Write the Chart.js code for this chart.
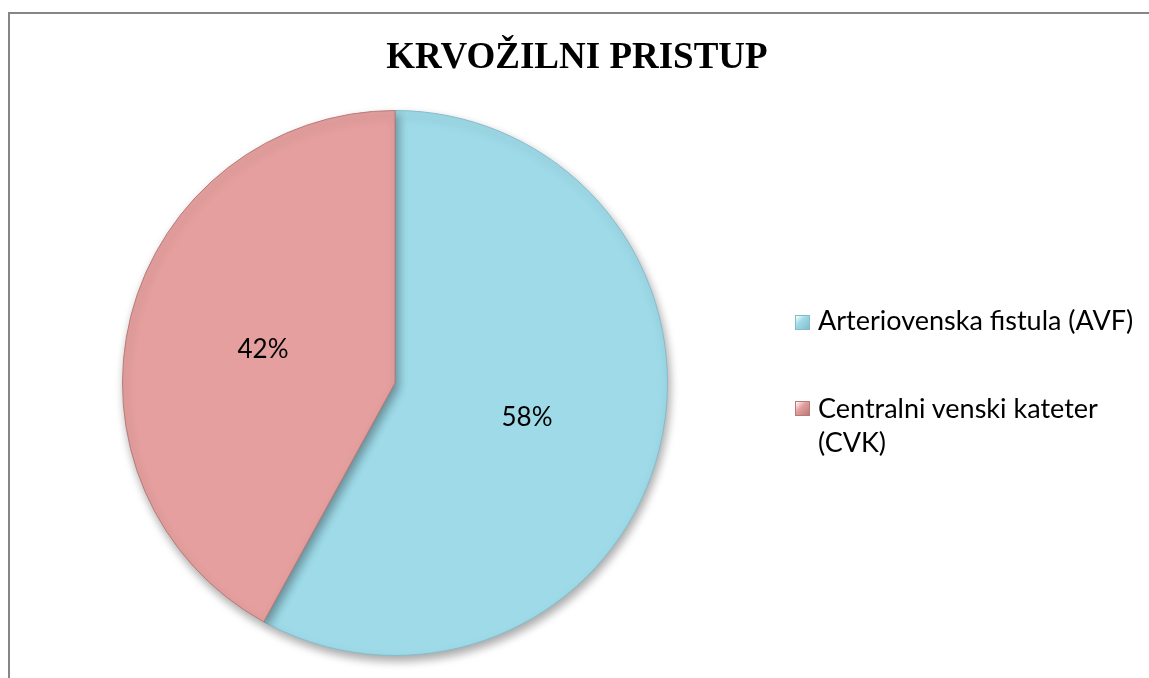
<!DOCTYPE html>
<html>
<head>
<meta charset="utf-8">
<script src="https://cdn.jsdelivr.net/npm/chart.js@4.4.1/dist/chart.umd.min.js"></script>
<style>
  html, body { margin:0; padding:0; background:#fff; }
  #wrap { position:relative; width:1149px; height:678px; overflow:hidden; }
  #frame { position:absolute; left:8px; top:12px; width:1200px; height:700px;
           border-top:2px solid #868686; border-left:2px solid #868686; }
  #c { position:absolute; left:0; top:0; }
  .line { position:absolute; left:818px; font-family:"Lato", "Liberation Sans", sans-serif;
          font-size:27px; line-height:34px; color:#000; white-space:nowrap; }
  .sw { position:absolute; left:795px; width:15px; height:15px; box-sizing:border-box; }
</style>
</head>
<body>
<div id="wrap">
  <div id="frame"></div>
  <canvas id="c" width="1149" height="678"></canvas>
  <div id="legend"></div>
</div>
<script>
const chartTitle = "KRVOŽILNI PRISTUP";
const categories = ["Arteriovenska fistula (AVF)", "Centralni venski kateter (CVK)"];
const legendLines = [["Arteriovenska fistula (AVF)"], ["Centralni venski kateter", "(CVK)"]];
const values = [58, 42];
const sliceColors = ["#9EDAE8", "#E49F9E"];
const sliceEdges = ["#86BCCA", "#B87A79"];

const titlePlugin = {
  id: 'fixedTitle',
  afterDraw(chart) {
    const ctx = chart.ctx;
    ctx.save();
    ctx.font = 'bold 37px "Liberation Serif", "Times New Roman", serif';
    ctx.fillStyle = '#000';
    ctx.textAlign = 'center';
    ctx.textBaseline = 'alphabetic';
    ctx.fillText(chartTitle, 577, 68);
    ctx.restore();
  }
};

const shadowPlugin = {
  id: 'sliceShadow',
  beforeDatasetsDraw(chart) {
    const ctx = chart.ctx;
    ctx.save();
    ctx.shadowColor = 'rgba(0,0,0,0.35)';
    ctx.shadowBlur = 10;
    ctx.shadowOffsetX = 2;
    ctx.shadowOffsetY = 5;
  },
  afterDatasetsDraw(chart) {
    chart.ctx.restore();
  }
};

const labelPlugin = {
  id: 'sliceLabels',
  afterDatasetsDraw(chart) {
    const ctx = chart.ctx;
    const meta = chart.getDatasetMeta(0);
    const total = values.reduce((a, b) => a + b, 0);
    ctx.save();
    ctx.font = '26px "Lato", "Liberation Sans", sans-serif';
    ctx.fillStyle = '#000';
    ctx.textAlign = 'center';
    ctx.textBaseline = 'alphabetic';
    meta.data.forEach((arc, i) => {
      const p = arc.getProps(['x', 'y', 'startAngle', 'endAngle', 'outerRadius'], true);
      const mid = (p.startAngle + p.endAngle) / 2;
      const r = p.outerRadius * 0.5;
      const pct = Math.round(values[i] / total * 100) + '%';
      ctx.fillText(pct, p.x + Math.cos(mid) * r, p.y + Math.sin(mid) * r + 9);
    });
    ctx.restore();
  }
};

new Chart(document.getElementById('c'), {
  type: 'pie',
  data: {
    labels: categories,
    datasets: [{
      data: values,
      backgroundColor: sliceColors,
      borderColor: sliceEdges,
      borderWidth: 1
    }]
  },
  options: {
    responsive: false,
    devicePixelRatio: 1,
    animation: false,
    rotation: 0,
    layout: { padding: { left: 121, top: 110, right: 480, bottom: 22 } },
    plugins: {
      legend: { display: false },
      title: { display: false },
      tooltip: { enabled: false }
    }
  },
  plugins: [shadowPlugin, labelPlugin, titlePlugin]
});

// legend (HTML), built from the category arrays
const lg = document.getElementById('legend');
const firstLineTop = [303, 391];
const swatchTop = [315, 401];
const lineGap = 34;
categories.forEach((c, i) => {
  const sw = document.createElement('span');
  sw.className = 'sw';
  sw.style.top = swatchTop[i] + 'px';
  sw.style.background = `linear-gradient(135deg, #fff 0%, ${sliceColors[i]} 40%, ${sliceEdges[i]} 100%)`;
  sw.style.border = '1px solid ' + sliceEdges[i];
  lg.appendChild(sw);
  legendLines[i].forEach((t, k) => {
    const line = document.createElement('div');
    line.className = 'line';
    line.style.top = (firstLineTop[i] + k * lineGap) + 'px';
    line.textContent = t;
    lg.appendChild(line);
  });
});
</script>
</body>
</html>
